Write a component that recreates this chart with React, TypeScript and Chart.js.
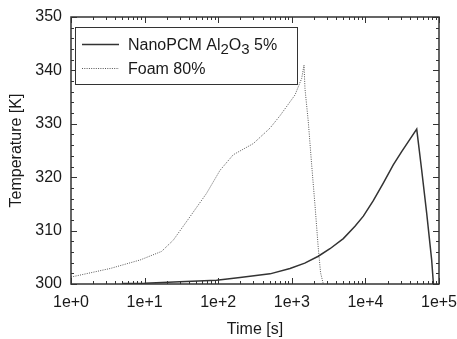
import React, { useEffect, useRef } from 'react';
import { Chart, registerables } from 'chart.js';

Chart.register(...registerables);

// ---- data ----
const nanoTime = [5, 10, 30, 95, 198, 506, 945, 1500, 2290, 3300, 5010, 7220, 9380, 12800, 17500, 23900, 31100, 49800, 58200, 68100, 79500, 84000];
const nanoTemp = [300.1, 300.15, 300.4, 300.7, 301.2, 301.9, 302.9, 303.9, 305.2, 306.6, 308.5, 310.8, 312.7, 315.6, 318.9, 322.3, 324.8, 329.0, 321.3, 313.2, 304.5, 300.0];

const foamTime = [1, 3.4, 8.7, 17, 24.5, 41.4, 69.6, 106, 160, 300, 506, 690, 1105, 1362, 1466, 1510, 1675, 1862, 2065, 2290, 2460, 2680];
const foamTemp = [301.3, 302.9, 304.5, 306.1, 308.2, 312.6, 317.0, 321.3, 324.2, 326.3, 329.2, 331.5, 335.4, 338.5, 341.0, 336.6, 330.4, 322.3, 314.8, 306.7, 302.1, 300.0];

const xTickValues = [1, 10, 100, 1000, 10000, 100000];
const yMin = 300;
const yMax = 350;
const yStep = 10;
const yMinorStep = 2;

const seriesLabels = ['NanoPCM Al2O3 5%', 'Foam 80%'];
// legend text segments: [text, isSubscript]
const legendSegments: [string, boolean][][] = [
  [['NanoPCM Al', false], ['2', true], ['O', false], ['3', true], [' 5%', false]],
  [['Foam 80%', false]],
];

const FONT = "'Liberation Sans', Arial, sans-serif";
const TEXT = '#1a1a1a';
const AXIS = '#333333';

const framePlugin = {
  id: 'frame',
  afterDatasetsDraw(chart: any) {
    const { ctx, chartArea: a, scales } = chart;
    const xs = scales.x;
    const ys = scales.y;
    ctx.save();
    ctx.strokeStyle = AXIS;
    ctx.lineWidth = 1;
    const seg = (x1: number, y1: number, x2: number, y2: number) => {
      ctx.beginPath();
      ctx.moveTo(x1, y1);
      ctx.lineTo(x2, y2);
      ctx.stroke();
    };
    const lo = Math.log10(xTickValues[0]);
    const hi = Math.log10(xTickValues[xTickValues.length - 1]);
    for (let e = lo; e <= hi; e++) {
      for (let k = 1; k < 10; k++) {
        if (e === hi && k > 1) break;
        const v = k * Math.pow(10, e);
        const px = Math.round(xs.getPixelForValue(v)) + 0.5;
        const len = k === 1 ? 6 : 3;
        seg(px, a.bottom, px, a.bottom - len);
        seg(px, a.top, px, a.top + len);
      }
    }
    for (let v = yMin; v <= yMax; v += yMinorStep) {
      const py = Math.round(ys.getPixelForValue(v)) + 0.5;
      const len = v % yStep === 0 ? 6 : 3;
      seg(a.left, py, a.left + len, py);
      seg(a.right, py, a.right - len, py);
    }
    ctx.lineWidth = 1.5;
    ctx.strokeRect(a.left, a.top, a.right - a.left, a.bottom - a.top);
    ctx.restore();
  },
};

const legendPlugin = {
  id: 'customLegend',
  afterDraw(chart: any) {
    const { ctx, chartArea: a } = chart;
    const bx = a.left + 4;
    const by = a.top + 10;
    const bw = 222;
    const bh = 57;
    ctx.save();
    ctx.fillStyle = '#ffffff';
    ctx.fillRect(bx, by, bw, bh);
    ctx.strokeStyle = AXIS;
    ctx.lineWidth = 1;
    ctx.strokeRect(bx + 0.5, by + 0.5, bw, bh);
    const rows = [by + 17, by + 41];
    const baselines = [by + 23, by + 46.5];
    chart.data.datasets.forEach((ds: any, i: number) => {
      const y = Math.round(rows[i]) + 0.5;
      ctx.strokeStyle = ds.borderColor;
      ctx.lineWidth = ds.borderWidth;
      ctx.setLineDash(ds.borderDash || []);
      ctx.beginPath();
      ctx.moveTo(bx + 7, y);
      ctx.lineTo(bx + 44, y);
      ctx.stroke();
      ctx.setLineDash([]);
      let tx = bx + 53;
      ctx.fillStyle = TEXT;
      ctx.textBaseline = 'alphabetic';
      ctx.textAlign = 'left';
      for (const [t, sub] of legendSegments[i]) {
        ctx.font = `${sub ? 15 : 16}px ${FONT}`;
        ctx.fillText(t, tx, baselines[i] + (sub ? 3.5 : 0));
        tx += ctx.measureText(t).width;
      }
    });
    ctx.restore();
  },
};

export default function App() {
  const ref = useRef<HTMLCanvasElement>(null);
  useEffect(() => {
    if (!ref.current) return;
    const chart = new Chart(ref.current, {
      type: 'line',
      data: {
        datasets: [
          {
            label: seriesLabels[0],
            data: nanoTime.map((t, i) => ({ x: t, y: nanoTemp[i] })),
            borderColor: '#333333',
            borderWidth: 1.5,
            pointRadius: 0,
            fill: false,
            tension: 0,
          },
          {
            label: seriesLabels[1],
            data: foamTime.map((t, i) => ({ x: t, y: foamTemp[i] })),
            borderColor: '#555555',
            borderWidth: 1,
            borderDash: [1, 1.3],
            pointRadius: 0,
            fill: false,
            tension: 0,
          },
        ],
      },
      options: {
        responsive: false,
        animation: false,
        events: [],
        layout: { padding: { left: 0, top: 17, right: 18, bottom: 0 } },
        plugins: { legend: { display: false }, tooltip: { enabled: false } },
        scales: {
          x: {
            type: 'logarithmic',
            min: xTickValues[0],
            max: xTickValues[xTickValues.length - 1],
            grid: { display: false, drawTicks: false, tickLength: 0 },
            border: { display: false },
            afterBuildTicks: (s: any) => {
              s.ticks = xTickValues.map((v) => ({ value: v }));
            },
            afterFit: (s: any) => {
              s.height = 55;
              s.paddingLeft = 0;
              s.paddingRight = 0;
            },
            ticks: {
              autoSkip: false,
              maxRotation: 0,
              padding: 9,
              color: TEXT,
              font: { family: FONT, size: 16 },
              callback: (v: any) => `1e+${Math.round(Math.log10(Number(v)))}`,
            },
            title: {
              display: true,
              text: 'Time [s]',
              color: TEXT,
              font: { family: FONT, size: 16 },
              padding: { top: 0, bottom: 0 },
            },
          },
          y: {
            min: yMin,
            max: yMax,
            grid: { display: false, drawTicks: false, tickLength: 0 },
            border: { display: false },
            afterFit: (s: any) => {
              s.width = 71;
              s.paddingTop = 0;
              s.paddingBottom = 0;
            },
            ticks: {
              stepSize: yStep,
              padding: 9,
              color: TEXT,
              font: { family: FONT, size: 16 },
            },
            title: {
              display: true,
              text: 'Temperature [K]',
              color: TEXT,
              font: { family: FONT, size: 16 },
              padding: { top: 7, bottom: 0 },
            },
          },
        },
      },
      plugins: [framePlugin, legendPlugin],
    } as any);
    return () => chart.destroy();
  }, []);
  return (
    <div style={{ position: 'absolute', left: 0, top: 0, width: 457, height: 339, background: '#fff' }}>
      <canvas ref={ref} width={457} height={339} style={{ display: 'block' }} />
    </div>
  );
}
